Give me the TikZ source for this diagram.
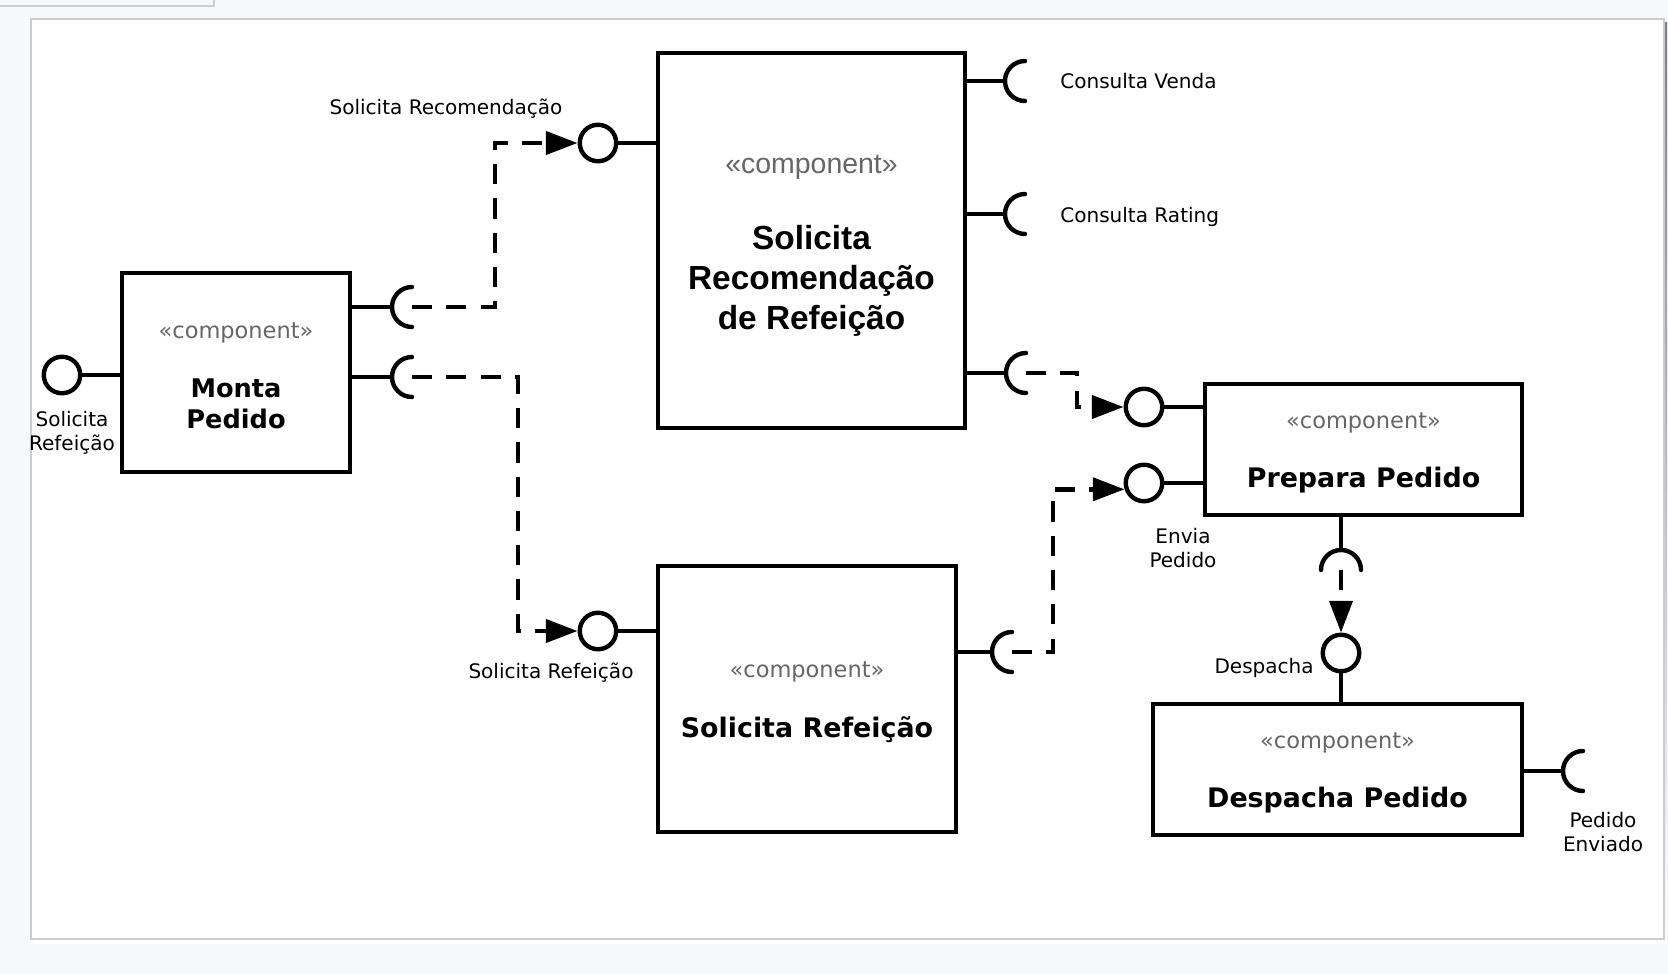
\documentclass[tikz,border=0pt]{standalone}
\usepackage{fontspec}
\setmainfont{DejaVu Sans}
\newfontfamily\arialfont{Liberation Sans}
\usepackage{tikz}
\usetikzlibrary{arrows.meta, calc, positioning}
\definecolor{pagebg}{RGB}{247,248,250}
\definecolor{frame}{RGB}{204,204,204}
\definecolor{shade}{RGB}{226,227,229}
\definecolor{stereo}{RGB}{102,102,102}
\tikzset{
  comp/.style={rectangle, draw=black, fill=white, line width=2.5pt,
    align=center, inner sep=0pt, font=\fontsize{15.3}{18}\selectfont\bfseries},
  lolli/.style={circle, draw=black, fill=white, line width=2.5pt,
    minimum size=0.73cm, inner sep=0pt},
  wire/.style={line width=2.5pt, color=black},
  dep/.style={line width=2.5pt, color=black, dash pattern=on 11.5pt off 8pt,
    -{Triangle[length=18pt,width=13pt]}},
  lbl/.style={font=\fontsize{11.4}{13.8}\selectfont, align=center, inner sep=0pt}
}
\newcommand{\stereotype}{{\mdseries\fontsize{12.8}{15}\selectfont\color{stereo}\rule{0pt}{13pt}«component»}}

\begin{document}
\begin{tikzpicture}[x=0.02cm, y=-0.02cm]
  % page and panel
  \useasboundingbox (0,0) rectangle (1668,974);
  \fill[pagebg] (0,0) rectangle (1668,974);
  \draw[frame, line width=1pt] (-2,-2) rectangle (214,6);
  \fill[shade] (33,22) rectangle (1667,943);
  \draw[frame, fill=white, line width=1.2pt] (31,19) rectangle (1664,939);

  % components
  \node[comp, minimum width=4.56cm, minimum height=3.98cm,
    font=\fontsize{14.6}{18}\selectfont\bfseries] (monta) at (236,372.5)
    {\stereotype\\[15.5pt]Monta\\Pedido};
  \node[comp, minimum width=6.14cm, minimum height=7.5cm,
    font=\arialfont\fontsize{19}{22.7}\selectfont\bfseries] (recom) at (811.5,240.5)
    {{\mdseries\fontsize{16.2}{19}\selectfont\color{stereo}\rule{0pt}{16pt}«component»}\\[20.6pt]Solicita\\Recomendação\\de Refeição};
  \node[comp, minimum width=6.34cm, minimum height=2.62cm] (prepara) at (1363.5,449.5)
    {\stereotype\\[15.5pt]Prepara Pedido};
  \node[comp, minimum width=5.96cm, minimum height=5.32cm] (solref) at (807,699)
    {\stereotype\\[16pt]Solicita Refeição};
  \node[comp, minimum width=7.38cm, minimum height=2.62cm] (despacha) at (1337.5,769.5)
    {\stereotype\\[15.5pt]Despacha Pedido};

  % provided interfaces
  \node[lolli] (iRefeicao) at (62,375) {};
  \node[lolli] (iRecom) at (598,143) {};
  \node[lolli] (iPrepara) at (1144,407) {};
  \node[lolli] (iEnvia) at (1144,483) {};
  \node[lolli] (iSolRef) at (598,631) {};
  \node[lolli] (iDespacha) at (1341,653) {};

  \draw[wire] (iRefeicao) -- (monta.west |- iRefeicao);
  \draw[wire] (iRecom) -- (recom.west |- iRecom);
  \draw[wire] (iPrepara) -- (prepara.west |- iPrepara);
  \draw[wire] (iEnvia) -- (prepara.west |- iEnvia);
  \draw[wire] (iSolRef) -- (solref.west |- iSolRef);
  \draw[wire] (iDespacha) -- (iDespacha |- despacha.north);

  % required interfaces
  \coordinate (rMonta1) at (412,307);
  \coordinate (rMonta2) at (412,377);
  \coordinate (rVenda) at (1025,81);
  \coordinate (rRating) at (1025,214);
  \coordinate (rPrepara) at (1026,373);
  \coordinate (rSolRef) at (1012,652);
  \coordinate (rDespacha) at (1341,570);
  \coordinate (rEnviado) at (1583,771);

  \foreach \s/\b in {rMonta1/monta, rMonta2/monta, rVenda/recom, rRating/recom,
      rPrepara/recom, rSolRef/solref, rEnviado/despacha}{
    \draw[wire] (\b.east |- \s) -- ($(\s)+(-20,0)$);
    \draw[wire, line cap=round] ($(\s)+(0,-20)$) arc[start angle=90, end angle=270, radius=0.4cm];
  }
  \draw[wire] (rDespacha |- prepara.south) -- ($(rDespacha)+(0,-20)$);
  \draw[wire, line cap=round] ($(rDespacha)+(-20,0)$) arc[start angle=180, end angle=0, radius=0.4cm];

  % dependencies
  \draw[dep] (rMonta1) -- ++(83,0) |- (iRecom);
  \draw[dep] (rMonta2) -- ++(106,0) |- (iSolRef);
  \draw[dep] (rPrepara) -- ++(51,0) |- (iPrepara);
  \draw[dep] (rSolRef) -- ++(41,0) |- (iEnvia.198);
  \draw[dep] (rDespacha) -- (iDespacha);

  % labels
  \node[lbl] (tRefeicao) at (72,433) {Solicita\\Refeição};
  \node[lbl] (tRecom) at (446,109) {Solicita Recomendação};
  \node[lbl, anchor=west] (tVenda) at (1060,81) {Consulta Venda};
  \node[lbl, anchor=west] (tRating) at (1060,217) {Consulta Rating};
  \node[lbl] (tEnvia) at (1183,548) {Envia\\Pedido};
  \node[lbl] (tSolRef) at (551,673) {Solicita Refeição};
  \node[lbl, anchor=east] (tDespacha) at (1314,668) {Despacha};
  \node[lbl] (tEnviado) at (1603,832) {Pedido\\Enviado};
\end{tikzpicture}
\end{document}
